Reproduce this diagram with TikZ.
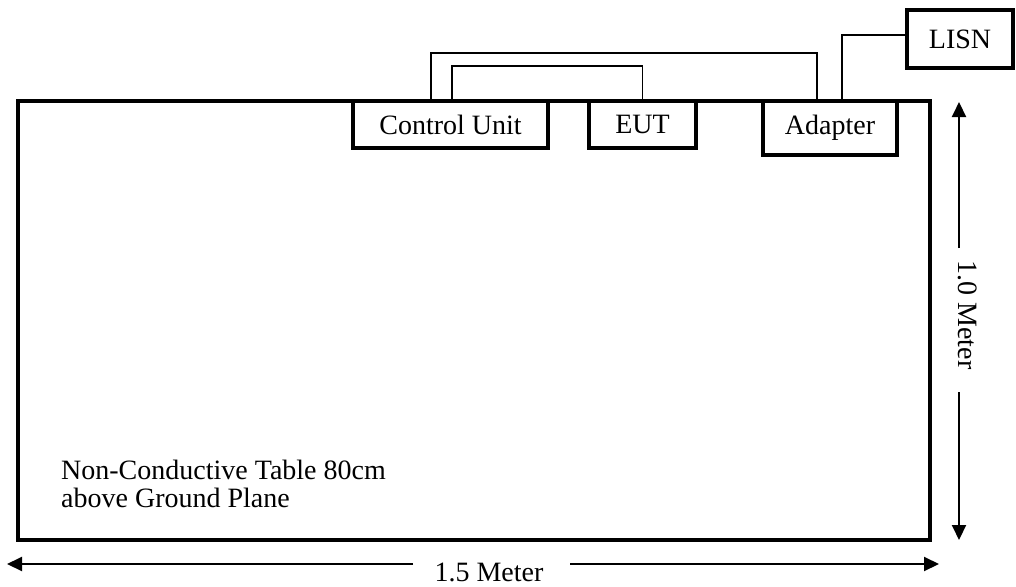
\documentclass[tikz,border=0pt]{standalone}
\usepackage{fontspec}
\setmainfont{Liberation Serif}
\usetikzlibrary{arrows.meta}
\begin{document}
\begin{tikzpicture}[x=1pt,y=-1pt,
  lbl/.style={font=\fontsize{28}{27.5}\selectfont, inner sep=0pt},
  unitbox/.style={draw, line width=3.5pt, fill=white, inner sep=0pt, font=\fontsize{28}{27.5}\selectfont},
  wire/.style={line width=1.6pt},
  dim/.style={line width=2pt, -{Triangle[length=15pt,width=14pt]}}
]
\useasboundingbox (0,0) rectangle (1016,586);
% table
\node[draw, line width=3.5pt, minimum width=912pt, minimum height=439pt, inner sep=0pt] (table) at (474,320.5) {};
% units
\node[unitbox, minimum width=195pt, minimum height=47pt] (cu) at (450.5,124.5) {Control Unit};
\node[unitbox, minimum width=107pt, minimum height=47pt] (eut) at (642.5,124.5) {EUT};
\node[unitbox, minimum width=134pt, minimum height=54pt] (ad) at (830,128) {Adapter};
\node[unitbox, minimum width=106pt, minimum height=58pt] (lisn) at (960,39) {LISN};
% wires
\draw[wire] ([xshift=80pt]cu.north west) -- ++(0,-46) -| ([xshift=56pt]ad.north west);
\draw[wire] ([xshift=101pt]cu.north west) -- ++(0,-33) -| (eut.north);
\draw[wire] ([xshift=81pt]ad.north west) |- ([yshift=4pt]lisn.west);
% table label
\node[lbl, align=left, anchor=north west] (tlabel) at (61,460) {Non-Conductive Table 80cm\\above Ground Plane};
% horizontal dimension
\coordinate (h1) at (7,564);
\coordinate (h2) at (413,564);
\coordinate (h3) at (570,564);
\coordinate (h4) at (939,564);
\draw[dim] (h2) -- (h1);
\draw[dim] (h3) -- (h4);
\node[lbl, anchor=base] (hlab) at (489,581) {1.5 Meter};
% vertical dimension
\coordinate (v1) at (959,102);
\coordinate (v2) at (959,248);
\coordinate (v3) at (959,392);
\coordinate (v4) at (959,540);
\draw[dim] (v2) -- (v1);
\draw[dim] (v3) -- (v4);
\node[lbl, rotate=-90] (vlab) at (967.5,315) {1.0 Meter};
\end{tikzpicture}
\end{document}
